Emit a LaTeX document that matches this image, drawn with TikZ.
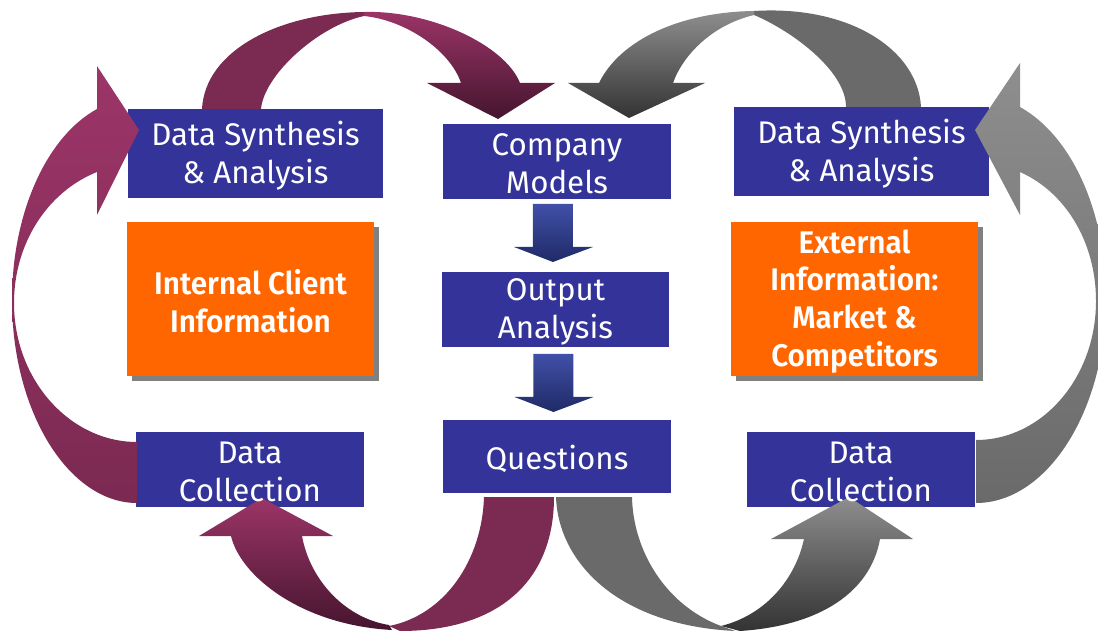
\documentclass[tikz,border=0pt]{standalone}
\usepackage{fontspec}
\setmainfont{Fira Sans}
\newfontfamily\headfont{Fira Sans SemiBold}[FakeStretch=0.95]
\usetikzlibrary{shadows}
\definecolor{boxblue}{HTML}{333399}
\definecolor{infoorange}{HTML}{FF6600}
\definecolor{shadowgray}{HTML}{808080}
\definecolor{maroonmid}{HTML}{7B2A52}
\definecolor{maroonlight}{HTML}{9C3568}
\definecolor{maroondark}{HTML}{45152E}
\definecolor{graymid}{HTML}{6A6A6A}
\definecolor{graylight}{HTML}{8E8E8E}
\definecolor{graydark}{HTML}{333333}
\definecolor{arrowbluetop}{HTML}{4050A8}
\definecolor{arrowbluebot}{HTML}{1F2A66}
\begin{document}
\begin{tikzpicture}[x=0.02cm,y=-0.02cm,
  box/.style={anchor=north west, inner sep=0pt, outer sep=0pt},
  stepbox/.style={box, fill=boxblue},
  infobox/.style={box, fill=infoorange,
    drop shadow={shadow xshift=0.1cm, shadow yshift=-0.1cm, fill=shadowgray, opacity=1}},
  lbl/.style={text=white, align=center, inner sep=0pt, yshift=-0.05cm,
    font=\fontsize{17.8}{21.5}\selectfont},
  boldlbl/.style={lbl, font=\fontsize{17.8}{21.5}\selectfont\headfont},
  maroonfade/.style={top color=maroonlight, bottom color=maroondark},
  grayfade/.style={top color=graylight, bottom color=graydark},
  downarrow/.style={top color=arrowbluetop, bottom color=arrowbluebot}]
\useasboundingbox (0,0) rectangle (1098,631);
\clip (0,0) rectangle (1098,631);

% blue process boxes
\node[stepbox, minimum width=5.10cm, minimum height=1.78cm] (dsaL) at (128,109) {};
\node[stepbox, minimum width=4.56cm, minimum height=1.50cm] (cm)   at (443,124) {};
\node[stepbox, minimum width=4.54cm, minimum height=1.50cm] (oa)   at (442,272) {};
\node[stepbox, minimum width=4.56cm, minimum height=1.46cm] (qs)   at (443,420) {};
\node[stepbox, minimum width=5.10cm, minimum height=1.78cm] (dsaR) at (734,107) {};
\node[stepbox, minimum width=4.56cm, minimum height=1.50cm] (dcL)  at (136,432) {};
\node[stepbox, minimum width=4.56cm, minimum height=1.50cm] (dcR)  at (747,432) {};

% orange information boxes
\node[infobox, minimum width=4.94cm, minimum height=3.08cm] (inL) at (127,222) {};
\node[infobox, minimum width=4.94cm, minimum height=3.08cm] (inR) at (731,222) {};

% ---- maroon cycle (internal side) ----
% top ribbon: plain half rising from the synthesis box
\fill[maroonmid] (202,109) .. controls (205,50) and (280,13) .. (364,12)
  -- (364,16) .. controls (318,26) and (264,75) .. (261,109) -- cycle;
% top ribbon: shaded half with head pointing at the company models
\path[maroonfade] (364,12) .. controls (430,10) and (505,45) .. (520,83)
  -- (555,83) -- (498,119) -- (427,83) -- (461,83)
  .. controls (450,50) and (405,20) .. (364,16) -- cycle;
% left sweep from data collection up to synthesis
\path[top color=maroonlight, bottom color=maroonmid]
  (97,109) -- (97,66) -- (139,130) -- (97,215) -- (97,172)
  .. controls (47,192) and (14,244) .. (14,303)
  .. controls (14,380) and (70,442) .. (137,442)
  -- (137,503) .. controls (69,503) and (12,412) .. (12,300)
  .. controls (12,214) and (46,137) .. (97,109) -- cycle;
% bottom ribbon: plain half leaving the questions box
\fill[maroonmid] (484,497) -- (554,497)
  .. controls (554,580) and (500,631) .. (400,631) -- (389,626)
  .. controls (445,615) and (482,560) .. (484,497) -- cycle;
% bottom ribbon: shaded half with head pointing at data collection
\path[maroonfade] (231,536) -- (199,536) -- (262,498) -- (333,536) -- (302,536)
  .. controls (310,580) and (345,618) .. (389,625) -- (392,630)
  .. controls (300,625) and (240,575) .. (231,536) -- cycle;

% ---- grey cycle (external side) ----
% top ribbon: plain half rising from the synthesis box
\fill[graymid] (754,11) .. controls (850,5) and (918,50) .. (921,107)
  -- (846,107) .. controls (846,70) and (790,30) .. (754,15) -- cycle;
% top ribbon: shaded half with head pointing at the company models
\path[grayfade] (599,83) -- (568,83) -- (629,118) -- (705,83) -- (673,83)
  .. controls (683,55) and (712,25) .. (754,15) -- (754,11)
  .. controls (680,12) and (620,40) .. (599,83) -- cycle;
% right sweep from data collection up to synthesis
\path[top color=graylight, bottom color=graymid]
  (1020,107) -- (1020,63) -- (975,130) -- (1020,215) -- (1020,172)
  .. controls (1067,193) and (1096,244) .. (1096,301)
  .. controls (1096,378) and (1042,440) .. (976,440)
  -- (976,503) .. controls (1047,503) and (1106,411) .. (1106,298)
  .. controls (1106,212) and (1072,136) .. (1020,107) -- cycle;
% bottom ribbon: plain half leaving the questions box
\fill[graymid] (556,497) -- (632,497)
  .. controls (633,550) and (665,605) .. (721,626) -- (735,631)
  .. controls (615,625) and (558,560) .. (556,497) -- cycle;
% bottom ribbon: shaded half with head pointing at data collection
\path[grayfade] (804,539) -- (771,539) -- (849,497) -- (913,539) -- (880,539)
  .. controls (872,585) and (830,625) .. (740,631) -- (721,626)
  .. controls (765,615) and (795,580) .. (804,539) -- cycle;

% ---- downward flow in the centre column ----
\path[downarrow, shift={(cm.south)}]
  (-24,5) -- (16,5) -- (16,48) -- (36,48) -- (-4,63) -- (-43,48) -- (-24,48) -- cycle;
\path[downarrow, shift={(oa.south)}]
  (-22,7) -- (18,7) -- (18,50) -- (38,50) -- (-2,65) -- (-41,50) -- (-22,50) -- cycle;

% ---- labels ----
\node[lbl] (tdsaL) at (dsaL.center) {Data Synthesis\\\& Analysis};
\node[lbl] (tcm)   at (cm.center)   {Company\\Models};
\node[lbl] (toa)   at (oa.center)   {Output\\Analysis};
\node[lbl] (tqs)   at (qs.center)   {Questions};
\node[lbl] (tdsaR) at (dsaR.center) {Data Synthesis\\\& Analysis};
\node[lbl] (tdcL)  at (dcL.center)  {Data\\Collection};
\node[lbl] (tdcR)  at (dcR.center)  {Data\\Collection};
\node[boldlbl] (tinL) at (inL.center) {Internal Client\\Information};
\node[boldlbl] (tinR) at (inR.center) {External\\Information:\\Market \&\\Competitors};
\end{tikzpicture}
\end{document}
